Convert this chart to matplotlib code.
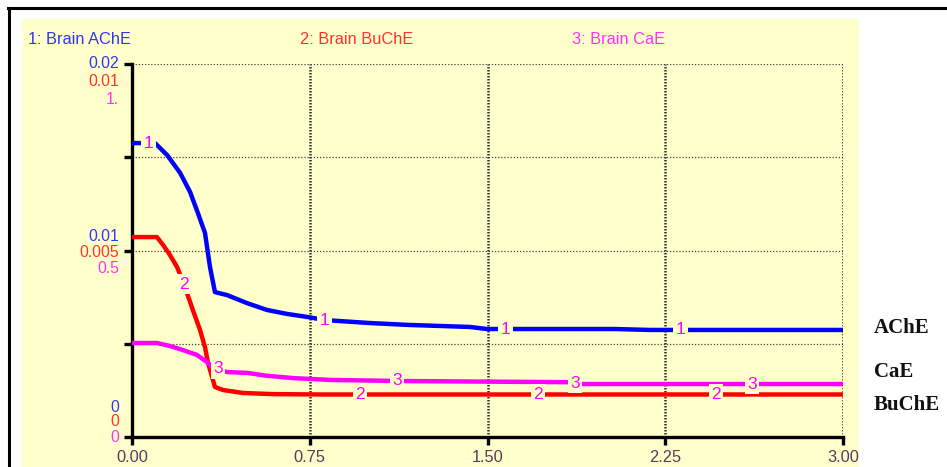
import numpy as np
import matplotlib
matplotlib.use("Agg")
import matplotlib.pyplot as plt
from matplotlib.patches import Rectangle
from matplotlib.lines import Line2D

# --- data (time in same units as x axis) ---
ache_t = [0.0, 0.097, 0.148, 0.203, 0.245, 0.278, 0.308, 0.329, 0.350, 0.401, 0.485,
          0.570, 0.654, 0.743, 0.814, 1.004, 1.165, 1.426, 1.498, 2.038, 2.186, 3.0]
ache_v = [0.01576, 0.01576, 0.01512, 0.01416, 0.01314, 0.01201, 0.01094, 0.00912, 0.00777,
          0.00761, 0.00718, 0.00681, 0.00660, 0.00643, 0.00627, 0.00611, 0.00601, 0.00590,
          0.00579, 0.00579, 0.00574, 0.00574]

buche_t = [0.0, 0.105, 0.131, 0.160, 0.190, 0.219, 0.257, 0.287, 0.308, 0.321, 0.338,
           0.350, 0.384, 0.468, 0.595, 0.793, 3.0]
buche_v = [0.00536, 0.00536, 0.00515, 0.00488, 0.00456, 0.00410, 0.00340, 0.00287, 0.00241,
           0.00198, 0.00161, 0.00134, 0.00126, 0.00118, 0.00115, 0.00114, 0.00114]

cae_t = [0.0, 0.105, 0.160, 0.215, 0.274, 0.316, 0.338, 0.401, 0.485, 0.570, 0.679,
         0.835, 1.143, 1.835, 1.890, 3.0]
cae_v = [0.252, 0.252, 0.244, 0.233, 0.220, 0.201, 0.188, 0.174, 0.172, 0.164, 0.158,
         0.153, 0.150, 0.147, 0.142, 0.142]

# axis maxima for each series (shared left axis, 4 divisions)
ache_max, buche_max, cae_max = 0.02, 0.01, 1.0
ache_ticks = ["0.02", "0.01", "0"]
buche_ticks = ["0.01", "0.005", "0"]
cae_ticks = ["1.", "0.5", "0"]

# times where the series numbers sit on the lines
ache_lbl_t = [0.068, 0.814, 1.574, 2.316]
buche_lbl_t = [0.219, 0.962, 1.713, 2.464]
cae_lbl_t = [0.363, 1.118, 1.869, 2.616]

x_ticks = [0.0, 0.75, 1.5, 2.25, 3.0]
x_ticklabels = ["0.00", "0.75", "1.50", "2.25", "3.00"]

titles = ["1: Brain AChE", "2: Brain BuChE", "3: Brain CaE"]
side_labels = ["AChE", "CaE", "BuChE"]

yellow = "#ffffcc"
blue, red, mag = "#0000ff", "#ff0000", "#ff00ff"

W, H = 947, 467
fig = plt.figure(figsize=(W / 100, H / 100), dpi=100)
fig.patch.set_facecolor("white")

def fx(px):
    return px / W

def fy(py):
    return 1 - py / H

# yellow panel and black frame lines (kept behind the axes)
fig.patches.append(Rectangle((fx(22), 0), fx(859) - fx(22), fy(19), transform=fig.transFigure,
                             facecolor=yellow, edgecolor="none", zorder=-10))
fig.lines.append(Line2D([fx(8), 1], [fy(8), fy(8)], transform=fig.transFigure, color="black",
                        lw=2.2, zorder=-5))
fig.lines.append(Line2D([fx(9), fx(9)], [0, fy(8)], transform=fig.transFigure, color="black",
                        lw=2.2, zorder=-5))

ax = fig.add_axes([fx(132), fy(437), fx(843) - fx(132), fy(64) - fy(437)])
ax.set_facecolor("none")
ax.set_xlim(0, 3.0)
ax.set_ylim(0, 1)

for s in ["top", "right"]:
    ax.spines[s].set_visible(False)
for s in ["left", "bottom"]:
    ax.spines[s].set_linewidth(2.4)

# grid
for yv in [0.25, 0.5, 0.75, 1.0]:
    ax.axhline(yv, color="#444444", lw=0.9, ls=(0, (1, 1.5)), zorder=1)
for xv in x_ticks[1:]:
    ax.axvline(xv, color="#333333", lw=1.8, ls=(0, (0.6, 0.6)), zorder=1)

series = [
    (ache_t, ache_v, ache_max, blue, ache_lbl_t, "1"),
    (buche_t, buche_v, buche_max, red, buche_lbl_t, "2"),
    (cae_t, cae_v, cae_max, mag, cae_lbl_t, "3"),
]
for t, v, vmax, col, lbl_t, num in series:
    yn = np.array(v) / vmax
    ax.plot(t, yn, color=col, lw=3.2, solid_capstyle="butt", zorder=3, clip_on=False)
    for lt in lbl_t:
        ax.text(lt, np.interp(lt, t, yn), num, color=mag, fontsize=12.5, family="Liberation Sans",
                ha="center", va="center", zorder=4,
                bbox=dict(boxstyle="square,pad=0.15", fc=yellow, ec="none"))

# ticks
ax.set_yticks([0, 0.25, 0.5, 0.75, 1.0])
ax.set_yticklabels([])
ax.set_xticks(x_ticks)
ax.set_xticklabels(x_ticklabels, color="#5a3a60", fontsize=11.8, family="Liberation Sans")
ax.tick_params(axis="both", length=6, width=2.4, color="black")
ax.tick_params(axis="x", pad=3)

# stacked left tick labels: (y, pixel offsets for blue/red/magenta)
stack = [(1.0, [0, -17, -35]), (0.5, [14, -2, -18]), (0.0, [30, 15, 0])]
for i, (yv, offs) in enumerate(stack):
    for lab, col, off in zip([ache_ticks[i], buche_ticks[i], cae_ticks[i]], [blue, red, mag], offs):
        ax.annotate(lab, xy=(0, yv), xycoords="axes fraction", xytext=(-13, off),
                    textcoords="offset pixels", ha="right", va="center", color=col,
                    fontsize=11.3, family="Liberation Sans", alpha=0.8)

# titles
for txt, col, px in zip(titles, [blue, red, mag], [28, 300, 572]):
    fig.text(fx(px), fy(39), txt, color=col, fontsize=11.8, family="Liberation Sans",
             ha="left", va="center", alpha=0.8)

# right-side labels
for txt, py in zip(side_labels, [328, 372, 405]):
    fig.text(fx(874), fy(py), txt, color="#111111", fontsize=15, family="Liberation Serif",
             weight="bold", ha="left", va="center")

fig.savefig("out.png", dpi=100)
